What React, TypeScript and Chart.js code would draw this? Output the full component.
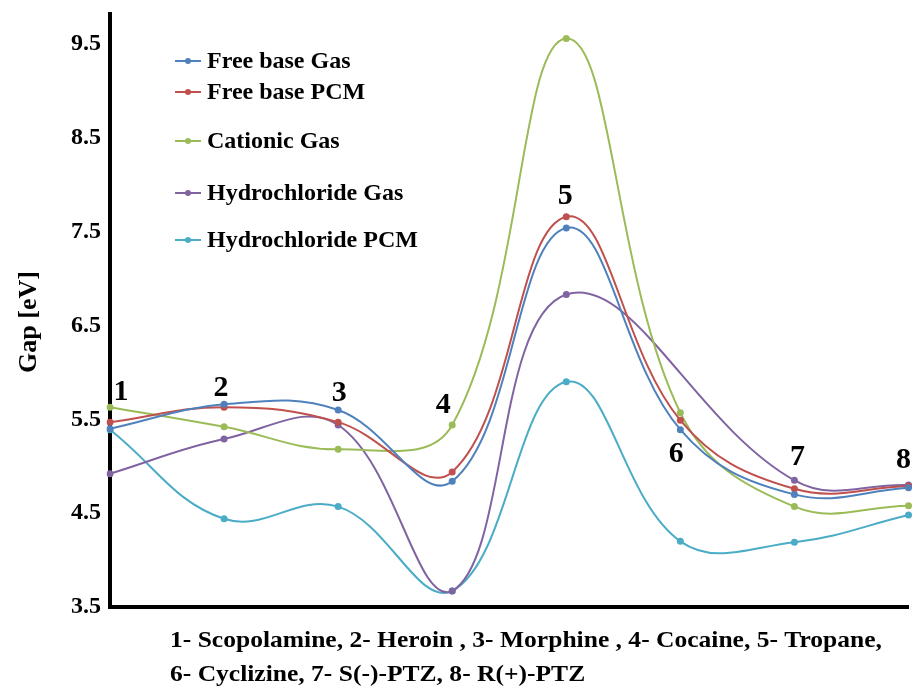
import React, { useEffect, useRef } from "react";
import { Chart, registerables } from "chart.js";

Chart.register(...registerables);

// ---- data ----
const compounds = ["1", "2", "3", "4", "5", "6", "7", "8"];
const captionLine1 = "1- Scopolamine, 2- Heroin , 3- Morphine , 4- Cocaine, 5- Tropane,";
const captionLine2 = "6- Cyclizine, 7- S(-)-PTZ, 8- R(+)-PTZ";
const yTicks = [3.5, 4.5, 5.5, 6.5, 7.5, 8.5, 9.5];
const yTitle = "Gap [eV]";

const freeBaseGas = [5.4, 5.66, 5.6, 4.84, 7.54, 5.39, 4.7, 4.77];
const freeBasePCM = [5.47, 5.63, 5.47, 4.94, 7.66, 5.49, 4.76, 4.79];
const cationicGas = [5.63, 5.42, 5.18, 5.44, 9.56, 5.57, 4.57, 4.58];
const hydrochlorideGas = [4.92, 5.29, 5.44, 3.67, 6.83, null, 4.85, 4.8];
const hydrochloridePCM = [5.39, 4.44, 4.57, 3.67, 5.9, 4.2, 4.19, 4.48];

const seriesNames = [
  "Free base Gas",
  "Free base PCM",
  "Cationic Gas",
  "Hydrochloride Gas",
  "Hydrochloride PCM",
];
const seriesValues = [freeBaseGas, freeBasePCM, cationicGas, hydrochlorideGas, hydrochloridePCM];
const seriesColors = ["#4F81BD", "#C0504D", "#9BBB59", "#8064A2", "#4BACC6"];

// ---- drawing ----
const SERIF = "'Liberation Serif', 'Times New Roman', serif";

// compound numbers placed near each point group (value units + pixel nudge)
const numberPlacement = [
  { dx: 11, v: 5.79 },
  { dx: -3, v: 5.83 },
  { dx: 1, v: 5.78 },
  { dx: -9, v: 5.65 },
  { dx: -1, v: 7.88 },
  { dx: -4, v: 5.13 },
  { dx: 3, v: 5.1 },
  { dx: -5, v: 5.06 },
];

const legendRows = [61, 92, 141, 193, 240];

const decorations = {
  id: "decorations",
  afterDraw(chart: any) {
    const { ctx } = chart;
    const xs = chart.scales.x;
    const ys = chart.scales.y;
    ctx.save();
    ctx.fillStyle = "#000";

    // y axis title
    ctx.save();
    ctx.translate(29, 322);
    ctx.rotate(-Math.PI / 2);
    ctx.font = `bold 26px ${SERIF}`;
    ctx.textAlign = "center";
    ctx.textBaseline = "middle";
    ctx.fillText(yTitle, 0, 0);
    ctx.restore();

    // compound numbers
    ctx.font = `bold 30px ${SERIF}`;
    ctx.textAlign = "center";
    ctx.textBaseline = "middle";
    compounds.forEach((c, i) => {
      const p = numberPlacement[i];
      ctx.fillText(c, xs.getPixelForValue(i) + p.dx, ys.getPixelForValue(p.v));
    });

    // legend
    ctx.font = `bold 24px ${SERIF}`;
    ctx.textAlign = "left";
    seriesNames.forEach((name, i) => {
      const yy = legendRows[i];
      ctx.strokeStyle = seriesColors[i];
      ctx.lineWidth = 2;
      ctx.beginPath();
      ctx.moveTo(175, yy);
      ctx.lineTo(201, yy);
      ctx.stroke();
      ctx.fillStyle = seriesColors[i];
      ctx.beginPath();
      ctx.arc(188, yy, 3, 0, Math.PI * 2);
      ctx.fill();
      ctx.fillStyle = "#000";
      ctx.fillText(name, 207, yy + 1);
    });

    // caption under the axis
    ctx.font = `bold 24px ${SERIF}`;
    ctx.textBaseline = "middle";
    const w1 = ctx.measureText(captionLine1).width;
    const sx = 712 / w1;
    ctx.save();
    ctx.translate(170, 641);
    ctx.scale(sx, 1);
    ctx.fillText(captionLine1, 0, 0);
    ctx.restore();
    ctx.save();
    ctx.translate(170, 675);
    ctx.scale(sx, 1);
    ctx.fillText(captionLine2, 0, 0);
    ctx.restore();

    ctx.restore();
  },
};

export default function App() {
  const canvasRef = useRef<HTMLCanvasElement | null>(null);

  useEffect(() => {
    document.body.style.margin = "0";
    const canvas = canvasRef.current;
    if (!canvas) return;

    const chart = new Chart(canvas, {
      type: "line",
      data: {
        labels: compounds,
        datasets: seriesNames.map((name, i) => ({
          label: name,
          data: seriesValues[i],
          borderColor: seriesColors[i],
          backgroundColor: seriesColors[i],
          borderWidth: 2,
          pointRadius: 3.5,
          pointHoverRadius: 3.5,
          pointBorderWidth: 0,
          tension: 0.4,
          spanGaps: true,
          fill: false,
        })),
      },
      options: {
        animation: false,
        responsive: false,
        devicePixelRatio: 1,
        layout: { padding: { top: 14, right: 2, left: 0, bottom: 0 } },
        plugins: {
          legend: { display: false },
          tooltip: { enabled: false },
          title: { display: false },
        },
        scales: {
          x: {
            type: "category",
            offset: false,
            grid: { display: false, drawTicks: false },
            border: { display: true, color: "#000", width: 4 },
            ticks: { display: false },
            afterFit(scale: any) {
              scale.height = 88;
              scale.paddingLeft = 0;
              scale.paddingRight = 0;
            },
          },
          y: {
            min: 3.5,
            max: 9.82,
            grid: { display: false, drawTicks: false },
            border: { display: true, color: "#000", width: 4 },
            afterBuildTicks(scale: any) {
              scale.ticks = yTicks.map((v) => ({ value: v }));
            },
            afterFit(scale: any) {
              scale.width = 110;
              scale.paddingTop = 0;
              scale.paddingBottom = 0;
            },
            ticks: {
              color: "#000",
              padding: 9,
              font: { family: SERIF, size: 24, weight: "bold" },
              callback: (v: any) => Number(v).toFixed(1),
            },
          },
        },
      },
      plugins: [decorations],
    });

    return () => chart.destroy();
  }, []);

  return (
    <div style={{ width: 912, height: 695, background: "#fff" }}>
      <canvas ref={canvasRef} width={912} height={695} style={{ display: "block" }} />
    </div>
  );
}
